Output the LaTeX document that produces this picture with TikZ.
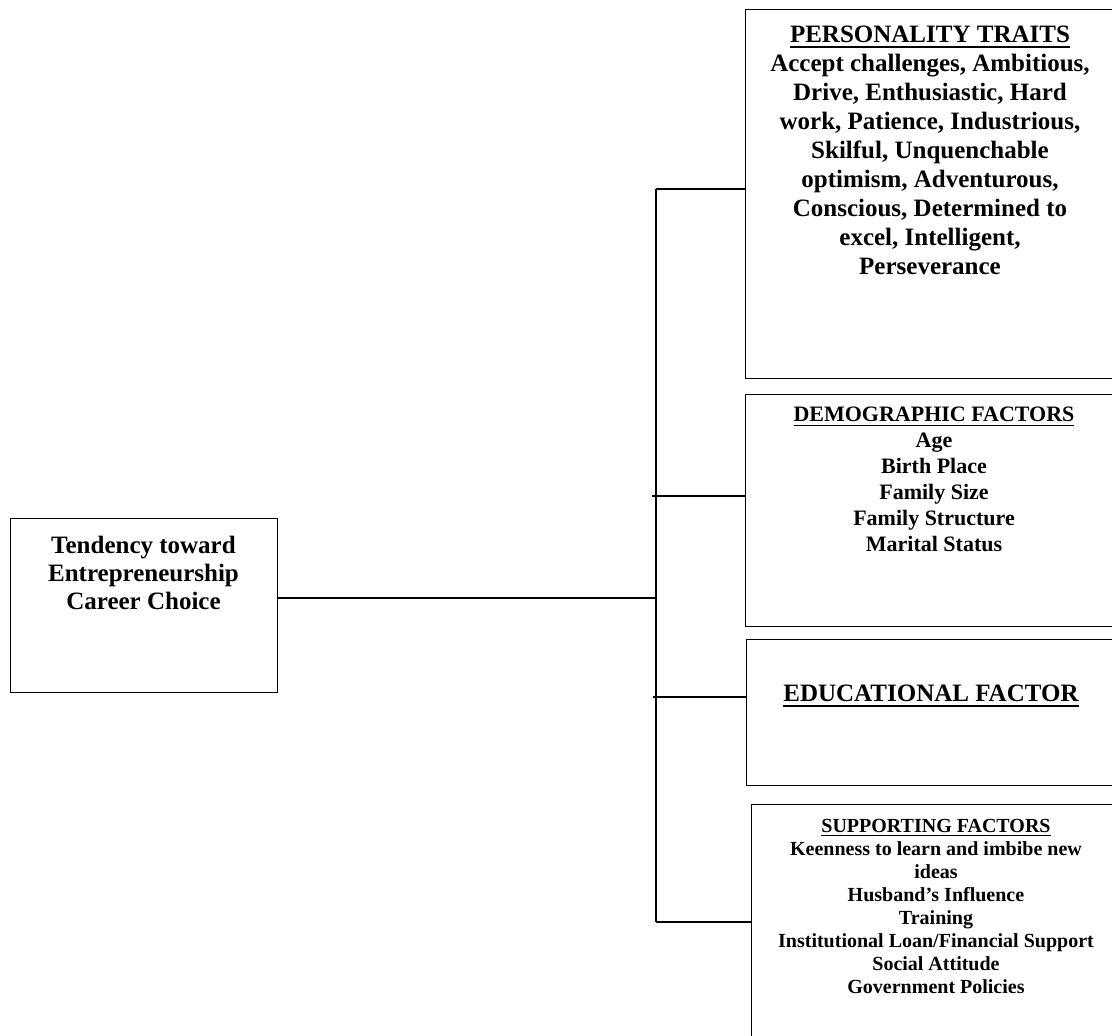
\documentclass[tikz,border=0pt]{standalone}
\usepackage{fontspec}
\setmainfont{Liberation Serif}
% heading underline, set a little below the baseline
\newcommand\headul[1]{\setbox0=\hbox{#1}\rlap{\rule[-0.2em]{\wd0}{0.075em}}\box0}
\begin{document}
\begin{tikzpicture}[x=1pt, y=-1pt,
  box/.style={draw, line width=1.3pt, inner sep=0pt, anchor=north west},
  link/.style={line width=1.3pt},
  txt/.style={anchor=north, align=center, inner sep=0pt, font=\bfseries}]
\useasboundingbox (0,0) rectangle (1112,1036);

% boxes (the factor boxes run past the right and bottom edges)
\node[box, minimum width=267pt, minimum height=174pt] (goal) at (10,518) {};
\node[box, minimum width=371pt, minimum height=369pt] (pt) at (745,9) {};
\node[box, minimum width=371pt, minimum height=232pt] (dm) at (745,394) {};
\node[box, minimum width=371pt, minimum height=146pt] (ed) at (746,639) {};
\node[box, minimum width=371pt, minimum height=260pt] (sp) at (751,804) {};

% texts
\node[txt, font=\bfseries\fontsize{25}{28}\selectfont] (goaltxt) at (143.5,536)
  {Tendency toward\\Entrepreneurship\\Career Choice};
\node[txt, font=\bfseries\fontsize{25}{29}\selectfont] (pttxt) at (930,26)
  {\headul{PERSONALITY TRAITS}\\Accept challenges, Ambitious,\\Drive, Enthusiastic, Hard\\work, Patience, Industrious,\\Skilful, Unquenchable\\optimism, Adventurous,\\Conscious, Determined to\\excel, Intelligent,\\Perseverance};
\node[txt, font=\bfseries\fontsize{22}{26}\selectfont] (dmtxt) at (934,407)
  {\headul{DEMOGRAPHIC FACTORS}\\Age\\Birth Place\\Family Size\\Family Structure\\Marital Status};
\node[txt, font=\bfseries\fontsize{25}{29}\selectfont] (edtxt) at (931,685)
  {\headul{EDUCATIONAL FACTOR}};
\node[txt, font=\bfseries\fontsize{20}{23}\selectfont] (sptxt) at (936,819)
  {\headul{SUPPORTING FACTORS}\\Keenness to learn and imbibe new\\ideas\\Husband’s Influence\\Training\\Institutional Loan/Financial Support\\Social Attitude\\Government Policies};

% bus and its junctions
\coordinate (j1) at (656,189);
\coordinate (j0) at (656,598);
\coordinate (j2) at (656,496);
\coordinate (j3) at (656,697);
\coordinate (j4) at (656,922);

\draw[link] (goal.east |- j0) -- (j0);
\draw[link] (j1) -- (j4);
\draw[link] (j1) -- (pt.west |- j1);
\draw[link] ([xshift=-4pt]j2) -- (dm.west |- j2);
\draw[link] ([xshift=-3pt]j3) -- (ed.west |- j3);
\draw[link] (j4) -- (sp.west |- j4);
\end{tikzpicture}
\end{document}
